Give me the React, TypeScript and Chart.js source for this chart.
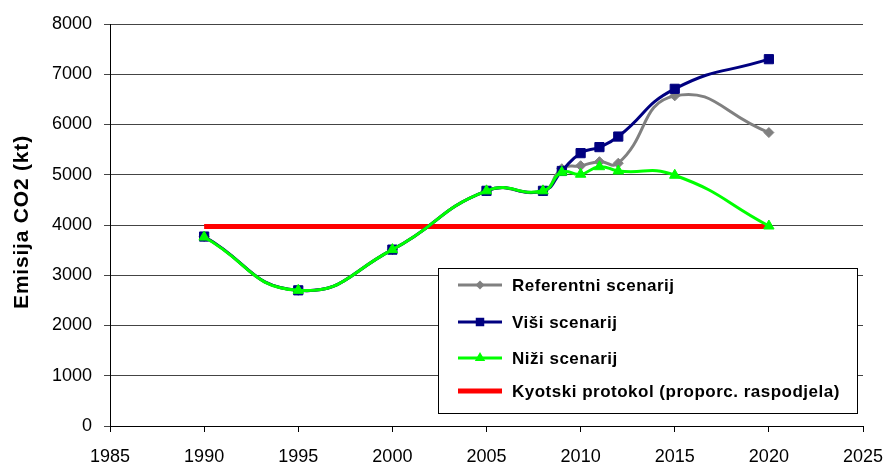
import React, { useEffect, useRef } from "react";
import { Chart, registerables } from "chart.js";

Chart.register(...registerables);

const yearsRef = [1990, 1995, 2000, 2005, 2008, 2009, 2010, 2011, 2012, 2015, 2020];
const referentni = [3770, 2700, 3510, 4680, 4680, 5120, 5180, 5260, 5230, 6570, 5840];
const visi = [3770, 2700, 3510, 4680, 4680, 5075, 5430, 5550, 5760, 6710, 7300];
const nizi = [3760, 2700, 3510, 4680, 4680, 5050, 5010, 5160, 5075, 4990, 3980];
const kyotoYears = [1990, 2020];
const kyoto = [3970, 3970];
const seriesLabels = [
  "Referentni scenarij",
  "Viši scenarij",
  "Niži scenarij",
  "Kyotski protokol (proporc. raspodjela)",
];
const yAxisTitle = "Emisija CO2 (kt)";

const GREY = "#808080";
const NAVY = "#000080";
const GREEN = "#00FF00";
const RED = "#FF0000";

const toPts = (xs: number[], ys: number[]) => xs.map((x, i) => ({ x, y: ys[i] }));

const FONT = "'Liberation Sans', Arial, sans-serif";

function drawMarker(ctx: CanvasRenderingContext2D, style: string, r: number, x: number, y: number) {
  ctx.beginPath();
  if (style === "rect") {
    const s = r * Math.SQRT1_2;
    ctx.rect(x - s, y - s, 2 * s, 2 * s);
  } else if (style === "rectRot") {
    ctx.moveTo(x, y - r);
    ctx.lineTo(x + r, y);
    ctx.lineTo(x, y + r);
    ctx.lineTo(x - r, y);
    ctx.closePath();
  } else if (style === "triangle") {
    ctx.moveTo(x, y - r);
    ctx.lineTo(x + r * 0.866, y + r * 0.5);
    ctx.lineTo(x - r * 0.866, y + r * 0.5);
    ctx.closePath();
  }
}

const customPlugin = {
  id: "custom",
  afterDraw(chart: any) {
    const ctx = chart.ctx as CanvasRenderingContext2D;
    // Y-axis title
    ctx.save();
    ctx.font = `bold 21px ${FONT}`;
    (ctx as any).letterSpacing = "0.8px";
    ctx.fillStyle = "#000";
    ctx.textAlign = "center";
    ctx.textBaseline = "middle";
    ctx.translate(22, 222);
    ctx.rotate(-Math.PI / 2);
    ctx.fillText(yAxisTitle, 0, 0);
    ctx.restore();

    // Legend box
    const bx = 438.5, by = 268.5, bw = 419, bh = 145;
    ctx.save();
    ctx.fillStyle = "#fff";
    ctx.fillRect(bx, by, bw, bh);
    ctx.strokeStyle = "#000";
    ctx.lineWidth = 1;
    ctx.strokeRect(bx, by, bw, bh);
    const rows = [285, 322, 358, 391];
    const colors = [GREY, NAVY, GREEN, RED];
    const styles = ["rectRot", "rect", "triangle", ""];
    const radii = [4.5, 6, 6, 0];
    rows.forEach((ry, i) => {
      ctx.strokeStyle = colors[i];
      ctx.lineWidth = i === 3 ? 5 : 3;
      ctx.beginPath();
      ctx.moveTo(458, ry);
      ctx.lineTo(502, ry);
      ctx.stroke();
      if (styles[i]) {
        ctx.fillStyle = colors[i];
        drawMarker(ctx, styles[i], radii[i], 480, ry);
        ctx.fill();
      }
      ctx.fillStyle = "#000";
      ctx.font = `bold 17px ${FONT}`;
      (ctx as any).letterSpacing = "0.5px";
      ctx.textAlign = "left";
      ctx.textBaseline = "middle";
      ctx.fillText(seriesLabels[i], 512, ry + 1);
    });
    ctx.restore();
  },
};

export default function App() {
  const ref = useRef<HTMLCanvasElement | null>(null);
  useEffect(() => {
    document.body.style.margin = "0";
    const canvas = ref.current!;
    const chart = new Chart(canvas, {
      type: "line",
      data: {
        datasets: [
          {
            label: seriesLabels[0],
            data: toPts(yearsRef, referentni),
            borderColor: GREY,
            backgroundColor: GREY,
            borderWidth: 3,
            pointStyle: "rectRot",
            pointRadius: 5,
            pointBorderWidth: 1,
            tension: 0.5,
            order: 2,
          },
          {
            label: seriesLabels[1],
            data: toPts(yearsRef, visi),
            borderColor: NAVY,
            backgroundColor: NAVY,
            borderWidth: 3,
            pointStyle: "rect",
            pointRadius: 6.5,
            pointBorderWidth: 1,
            tension: 0.5,
            order: 1,
          },
          {
            label: seriesLabels[2],
            data: toPts(yearsRef, nizi),
            borderColor: GREEN,
            backgroundColor: GREEN,
            borderWidth: 3,
            pointStyle: "triangle",
            pointRadius: 6,
            pointBorderWidth: 1,
            tension: 0.5,
            order: 0,
          },
          {
            label: seriesLabels[3],
            data: toPts(kyotoYears, kyoto),
            borderColor: RED,
            backgroundColor: RED,
            borderWidth: 5,
            pointRadius: 0,
            tension: 0,
            order: 3,
          },
        ],
      },
      options: {
        animation: false,
        responsive: false,
        maintainAspectRatio: false,
        layout: { padding: { left: 0, right: 22, top: 24, bottom: 0 } },
        plugins: {
          legend: { display: false },
          tooltip: { enabled: false },
        },
        scales: {
          x: {
            type: "linear",
            min: 1985,
            max: 2025,
            ticks: {
              stepSize: 5,
              color: "#000",
              font: { family: FONT, size: 18 },
              padding: 14,
              maxRotation: 0,
              callback: (v: any) => String(v),
            },
            grid: {
              display: true,
              drawOnChartArea: false,
              drawTicks: true,
              tickLength: 6,
              color: "#000",
              lineWidth: 1,
            },
            border: { display: true, color: "#000", width: 1 },
            afterFit: (s: any) => {
              s.height = 38;
              s.paddingLeft = 0;
              s.paddingRight = 0;
            },
          },
          y: {
            min: 0,
            max: 8000,
            ticks: {
              stepSize: 1000,
              color: "#000",
              font: { family: FONT, size: 18 },
              padding: 12,
              callback: (v: any) => String(v),
            },
            grid: {
              display: true,
              drawOnChartArea: true,
              drawTicks: true,
              tickLength: 6,
              color: "#444",
              lineWidth: 1,
            },
            border: { display: true, color: "#000", width: 1 },
            afterFit: (s: any) => {
              s.width = 110;
              s.paddingTop = 0;
              s.paddingBottom = 0;
            },
          },
        },
      },
      plugins: [customPlugin],
    });
    return () => chart.destroy();
  }, []);
  return <canvas ref={ref} width={885} height={464} style={{ display: "block" }} />;
}
